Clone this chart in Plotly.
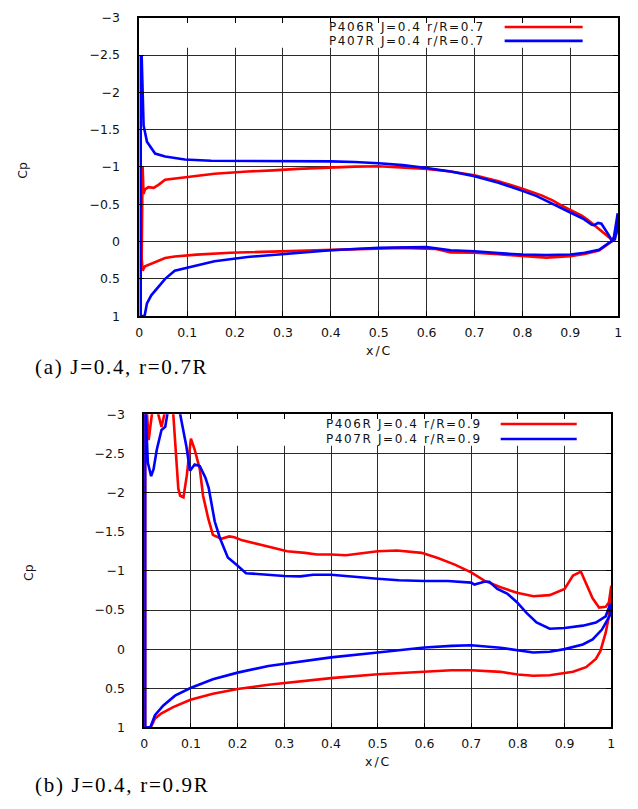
import plotly.graph_objects as go

# ---------------- data : panel (a) J=0.4, r/R=0.7 ----------------
a_p406_x = [1.0, 0.997, 0.993, 0.986, 0.975, 0.968, 0.957, 0.947, 0.935, 0.923, 0.9, 0.88,
            0.864, 0.84, 0.8, 0.75, 0.7, 0.65, 0.6, 0.55, 0.5, 0.45, 0.4, 0.33, 0.28, 0.226,
            0.157, 0.102, 0.074, 0.054, 0.04, 0.03, 0.019, 0.012, 0.009, 0.007,
            0.005, 0.007,
            0.012, 0.02, 0.04, 0.054, 0.074, 0.12, 0.19, 0.26, 0.337, 0.4, 0.5, 0.55, 0.6,
            0.62, 0.65, 0.7, 0.75, 0.8, 0.85, 0.9, 0.93, 0.96, 0.98, 0.99, 1.0]
a_p406_cp = [-0.17, -0.12, -0.06, -0.03, -0.09, -0.13, -0.19, -0.24, -0.30, -0.35, -0.42, -0.49,
             -0.55, -0.62, -0.71, -0.81, -0.89, -0.94, -0.975, -0.995, -1.01, -1.005, -0.996, -0.975, -0.955, -0.94,
             -0.91, -0.87, -0.85, -0.83, -0.76, -0.72, -0.73, -0.70, -0.64, -1.0,
             0.22, 0.39,
             0.33, 0.31, 0.26, 0.22, 0.20, 0.175, 0.15, 0.136, 0.12, 0.115, 0.087, 0.085, 0.095,
             0.10, 0.145, 0.15, 0.17, 0.196, 0.215, 0.196, 0.165, 0.12, 0.02, -0.02, -0.17]

a_p407_x = [0.999, 0.997, 0.993, 0.986, 0.98, 0.972, 0.965, 0.958, 0.95, 0.945, 0.935, 0.926,
            0.9, 0.864, 0.83, 0.8, 0.75, 0.7, 0.65, 0.6, 0.55, 0.5, 0.45, 0.4, 0.33, 0.25,
            0.15, 0.095, 0.074, 0.054, 0.033, 0.016, 0.009, 0.007, 0.005,
            0.003, 0.003,
            0.011, 0.016, 0.025, 0.033, 0.054, 0.074, 0.095, 0.157, 0.226, 0.337, 0.4, 0.5,
            0.55, 0.6, 0.65, 0.7, 0.75, 0.8, 0.85, 0.9, 0.93, 0.96, 0.98, 0.99, 0.999]
a_p407_cp = [-0.38, -0.15, -0.03, -0.02, -0.09, -0.175, -0.24, -0.25, -0.22, -0.225, -0.27, -0.31,
             -0.39, -0.50, -0.61, -0.68, -0.79, -0.877, -0.94, -0.987, -1.025, -1.05, -1.068, -1.075, -1.075, -1.078,
             -1.083, -1.10, -1.12, -1.14, -1.18, -1.34, -1.557, -2.0, -2.48,
             -2.48, 1.0,
             1.0, 0.83, 0.72, 0.66, 0.50, 0.39, 0.36, 0.263, 0.206, 0.154, 0.117, 0.083,
             0.08, 0.074, 0.117, 0.13, 0.155, 0.174, 0.18, 0.174, 0.15, 0.11, 0.02, -0.02, -0.38]

# ---------------- data : panel (b) J=0.4, r/R=0.9 ----------------
b_p406_x = [1.0, 0.995, 0.988, 0.974, 0.96, 0.946, 0.935, 0.918, 0.9, 0.868, 0.833, 0.798,
            0.763, 0.728, 0.7, 0.665, 0.63, 0.594, 0.541, 0.5, 0.46, 0.432, 0.4, 0.37, 0.344,
            0.306, 0.28, 0.249, 0.228, 0.21, 0.193, 0.182, 0.165, 0.147, 0.137, 0.126, 0.119,
            0.108, 0.1, 0.091, 0.084, 0.077, 0.073, 0.066, 0.06, 0.052, 0.045, 0.037, 0.028,
            0.0175, 0.0095, 0.005, 0.002,
            0.002,
            0.014, 0.023, 0.037, 0.062, 0.099, 0.147, 0.2, 0.266, 0.334, 0.4, 0.5, 0.6, 0.658,
            0.7, 0.763, 0.8, 0.833, 0.868, 0.9, 0.918, 0.946, 0.967, 0.977, 0.988, 0.995, 1.0]
b_p406_cp = [-0.81, -0.60, -0.54, -0.53, -0.65, -0.83, -0.99, -0.94, -0.77, -0.69, -0.675, -0.72,
             -0.79, -0.875, -0.98, -1.08, -1.16, -1.23, -1.26, -1.25, -1.22, -1.20, -1.21, -1.21, -1.23,
             -1.25, -1.29, -1.33, -1.36, -1.39, -1.43, -1.44, -1.41, -1.46, -1.67, -1.96, -2.30,
             -2.55, -2.69, -2.21, -1.94, -1.96, -2.05, -2.6, -3.2, -3.4, -3.05, -2.84, -3.05,
             -3.05, -2.67, -3.1, -3.2,
             1.0,
             1.0, 0.887, 0.82, 0.74, 0.648, 0.57, 0.51, 0.455, 0.41, 0.37, 0.32, 0.285, 0.27,
             0.27, 0.29, 0.325, 0.34, 0.333, 0.31, 0.29, 0.23, 0.125, 0.02, -0.21, -0.42, -0.81]

b_p407_x = [0.998, 0.988, 0.967, 0.939, 0.9, 0.868, 0.84, 0.819, 0.798, 0.777, 0.756, 0.739,
            0.728, 0.707, 0.7, 0.65, 0.6, 0.545, 0.5, 0.46, 0.4, 0.362, 0.334, 0.3, 0.25,
            0.218, 0.197, 0.179, 0.162, 0.151, 0.138, 0.131, 0.119, 0.108, 0.098, 0.09, 0.077,
            0.065, 0.055, 0.045, 0.037, 0.027, 0.02, 0.0148, 0.0078, 0.004, 0.002,
            0.002,
            0.013, 0.023, 0.041, 0.066, 0.099, 0.147, 0.2, 0.266, 0.334, 0.4, 0.5, 0.588, 0.6,
            0.658, 0.7, 0.763, 0.8, 0.833, 0.868, 0.9, 0.939, 0.96, 0.98, 0.998, 0.998]
b_p407_cp = [-0.58, -0.42, -0.34, -0.30, -0.27, -0.26, -0.34, -0.46, -0.60, -0.71, -0.77, -0.86,
             -0.86, -0.825, -0.85, -0.87, -0.87, -0.88, -0.90, -0.92, -0.95, -0.95, -0.93, -0.935, -0.955,
             -0.97, -1.08, -1.17, -1.42, -1.63, -2.06, -2.19, -2.34, -2.36, -2.28, -2.6, -3.0,
             -3.3, -3.2, -2.84, -2.80, -2.55, -2.30, -2.21, -2.38, -3.0, -3.2,
             1.0,
             1.0, 0.845, 0.72, 0.594, 0.497, 0.384, 0.30, 0.216, 0.16, 0.105, 0.042, -0.008, -0.02,
             -0.042, -0.05, -0.017, 0.013, 0.042, 0.033, 0.0, -0.06, -0.125, -0.25, -0.44, -0.58]

series_names_a = ["P406R J=0.4 r/R=0.7", "P407R J=0.4 r/R=0.7"]
series_names_b = ["P406R J=0.4 r/R=0.9", "P407R J=0.4 r/R=0.9"]
captions = ["(a) J=0.4, r=0.7R", "(b) J=0.4, r=0.9R"]
x_title = "x/C"
y_title = "Cp"

RED = "#ff0000"
BLUE = "#0000ff"
W, H = 638, 809


def px(x):
    return x / W


def py(y):
    return 1 - y / H


fig = go.Figure()
panels = [
    ("x", "y", a_p406_x, a_p406_cp, a_p407_x, a_p407_cp),
    ("x2", "y2", b_p406_x, b_p406_cp, b_p407_x, b_p407_cp),
]
for xa, ya, rx, ry, bx, by in panels:
    fig.add_trace(go.Scatter(x=rx, y=ry, mode="lines", xaxis=xa, yaxis=ya,
                             line=dict(color=RED, width=2.6), showlegend=False, hoverinfo="skip"))
    fig.add_trace(go.Scatter(x=bx, y=by, mode="lines", xaxis=xa, yaxis=ya,
                             line=dict(color=BLUE, width=2.6), showlegend=False, hoverinfo="skip"))

tickfont = dict(family="DejaVu Sans", size=12.5, color="#111")
common = dict(showline=True, linecolor="black", linewidth=1.6, mirror="all",
              ticks="inside", ticklen=5, tickcolor="black", tickwidth=1,
              showgrid=True, gridcolor="#2a2a2a", gridwidth=1, zeroline=False,
              tickfont=tickfont)
xcommon = dict(common, range=[0, 1], dtick=0.1, tick0=0, ticklabelstandoff=4)
ycommon = dict(common, range=[1, -3], dtick=0.5, tick0=0, ticklabelstandoff=15)

fig.update_layout(
    width=W, height=H, autosize=False,
    margin=dict(l=0, r=0, t=0, b=0),
    paper_bgcolor="white", plot_bgcolor="white",
    xaxis=dict(xcommon, domain=[px(137), px(622)], anchor="y"),
    yaxis=dict(ycommon, domain=[py(314), py(10)], anchor="x"),
    xaxis2=dict(xcommon, domain=[px(142), px(615)], anchor="y2"),
    yaxis2=dict(ycommon, domain=[py(733), py(414)], anchor="x2"),
)

# key box hides the grid in the top band
shapes = []
for xr, yr in [("x", "y"), ("x2", "y2")]:
    shapes.append(dict(type="rect", xref=xr, yref=yr, x0=0, x1=1, y0=-3, y1=-2.6,
                       fillcolor="white", line=dict(width=0), layer="between"))

annotations = []
legend_rows = [
    (series_names_a, 488, 507, 586, [19.3, 33.5]),
    (series_names_b, 485, 503, 580, [423.8, 439.2]),
]
for names, tx, lx0, lx1, ys in legend_rows:
    for name, col, yy in zip(names, [RED, BLUE], ys):
        annotations.append(dict(xref="paper", yref="paper", x=px(tx), y=py(yy),
                                xanchor="right", yanchor="middle", showarrow=False,
                                borderpad=0,
                                text='<span style="letter-spacing:1.6px">' + name + '</span>',
                                font=dict(family="DejaVu Sans", size=12, color="#111")))
        shapes.append(dict(type="line", xref="paper", yref="paper",
                           x0=px(lx0), x1=px(lx1), y0=py(yy), y1=py(yy),
                           line=dict(color=col, width=2.6)))

for cx, cy in [(380, 348.5), (379, 768)]:
    annotations.append(dict(xref="paper", yref="paper", x=px(cx), y=py(cy),
                            xanchor="center", yanchor="middle", showarrow=False,
                            text='<span style="letter-spacing:2px">' + x_title + '</span>',
                            font=dict(family="DejaVu Sans", size=12.5, color="#111")))
for cx, cy in [(19, 165), (25, 575)]:
    annotations.append(dict(xref="paper", yref="paper", x=px(cx), y=py(cy),
                            xanchor="center", yanchor="middle", showarrow=False, textangle=-90,
                            text=y_title, font=dict(family="DejaVu Sans", size=12.5, color="#111")))
for cap, cy in zip(captions, [366, 792]):
    annotations.append(dict(xref="paper", yref="paper", x=px(29), y=py(cy),
                            xanchor="left", yanchor="middle", showarrow=False,
                            text='<span style="letter-spacing:1.7px">' + cap + '</span>',
                            font=dict(family="Liberation Serif", size=21, color="black")))

fig.update_layout(shapes=shapes, annotations=annotations)
fig.write_html("out.html")
